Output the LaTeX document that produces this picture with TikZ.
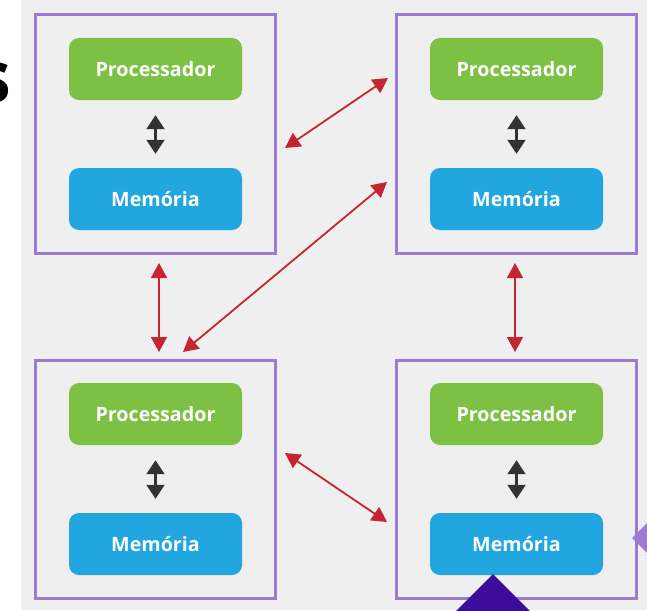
\documentclass[tikz,border=0pt]{standalone}
\usepackage{fontspec}
\setsansfont{Open Sans}
\usetikzlibrary{arrows.meta,shapes.geometric}

\definecolor{bgray}{HTML}{F0EFF0}
\definecolor{procgreen}{HTML}{7CC143}
\definecolor{memblue}{HTML}{22A6E0}
\definecolor{framepurple}{HTML}{9B7BCF}
\definecolor{linkred}{HTML}{C62430}
\definecolor{busdark}{HTML}{333333}
\definecolor{deeppurple}{HTML}{3D0C9C}
\definecolor{softpurple}{HTML}{9E7BD3}

\tikzset{
  frame/.style={draw=framepurple, line width=3pt, minimum width=240pt, minimum height=238pt, inner sep=0pt},
  unit/.style={rounded corners=10pt, minimum width=173pt, minimum height=62pt, inner sep=0pt,
               text=white, font=\sffamily\bfseries\fontsize{19.7}{22}\selectfont},
  proc/.style={unit, fill=procgreen},
  mem/.style={unit, fill=memblue},
  bus/.style={draw=busdark, line width=2.2pt,
              {Triangle[length=14pt,width=18pt]}-{Triangle[length=14pt,width=18pt]},
              shorten <=15pt, shorten >=14pt},
  link/.style={draw=linkred, line width=1.8pt,
               {Triangle[length=15pt,width=16pt]}-{Triangle[length=15pt,width=16pt]}},
  marker/.style={diamond, shape aspect=1, inner sep=0pt, draw=none}
}

\begin{document}
\begin{tikzpicture}[x=1pt, y=-1pt]
  \useasboundingbox (0,0) rectangle (647,610);
  % canvas: white margin on the left, light grey board
  \fill[white] (0,0) rectangle (647,610);
  \fill[bgray] (21,0) rectangle (647,610);

  % cropped heading letter at the left margin
  \begin{scope}
    \clip (0,0) rectangle (21,610);
    \node[anchor=base east, inner sep=0pt, font=\sffamily\bfseries\fontsize{72}{74}\selectfont] (hs) at (11.5,102) {s};
  \end{scope}

  % four nodes, each with processor and memory
  \node[frame] (f1) at (155,134) {};
  \node[frame] (f2) at (516,134) {};
  \node[frame] (f3) at (155,479) {};
  \node[frame] (f4) at (516,479) {};

  \node[proc] (p1) at (155.5,69) {Processador};
  \node[mem]  (m1) at (155.5,199) {Memória};
  \node[proc] (p2) at (516.5,69) {Processador};
  \node[mem]  (m2) at (516.5,199) {Memória};
  \node[proc] (p3) at (155.5,414) {Processador};
  \node[mem]  (m3) at (155.5,544) {Memória};
  \node[proc] (p4) at (516.5,414) {Processador};
  \node[mem]  (m4) at (516.5,544) {Memória};

  % local processor-memory buses
  \draw[bus] (p1) -- (m1);
  \draw[bus] (p2) -- (m2);
  \draw[bus] (p3) -- (m3);
  \draw[bus] (p4) -- (m4);

  % interconnect end points
  \coordinate (a1) at (285,148);
  \coordinate (a2) at (388,78);
  \coordinate (b1) at (183,352);
  \coordinate (b2) at (387,182);
  \coordinate (c1) at (159,263);
  \coordinate (c2) at (159,352);
  \coordinate (d1) at (515,263);
  \coordinate (d2) at (515,352);
  \coordinate (e1) at (285,453);
  \coordinate (e2) at (387,522);

  % links between nodes
  \draw[link] (a1) -- (a2);
  \draw[link] (b1) -- (b2);
  \draw[link] (c1) -- (c2);
  \draw[link] (d1) -- (d2);
  \draw[link] (e1) -- (e2);

  % decorative markers at the edges
  \node[marker, fill=deeppurple, minimum size=76pt] (dm) at (493,612) {};
  \node[marker, fill=softpurple, minimum size=76pt] (sm) at (670,538) {};
\end{tikzpicture}
\end{document}
